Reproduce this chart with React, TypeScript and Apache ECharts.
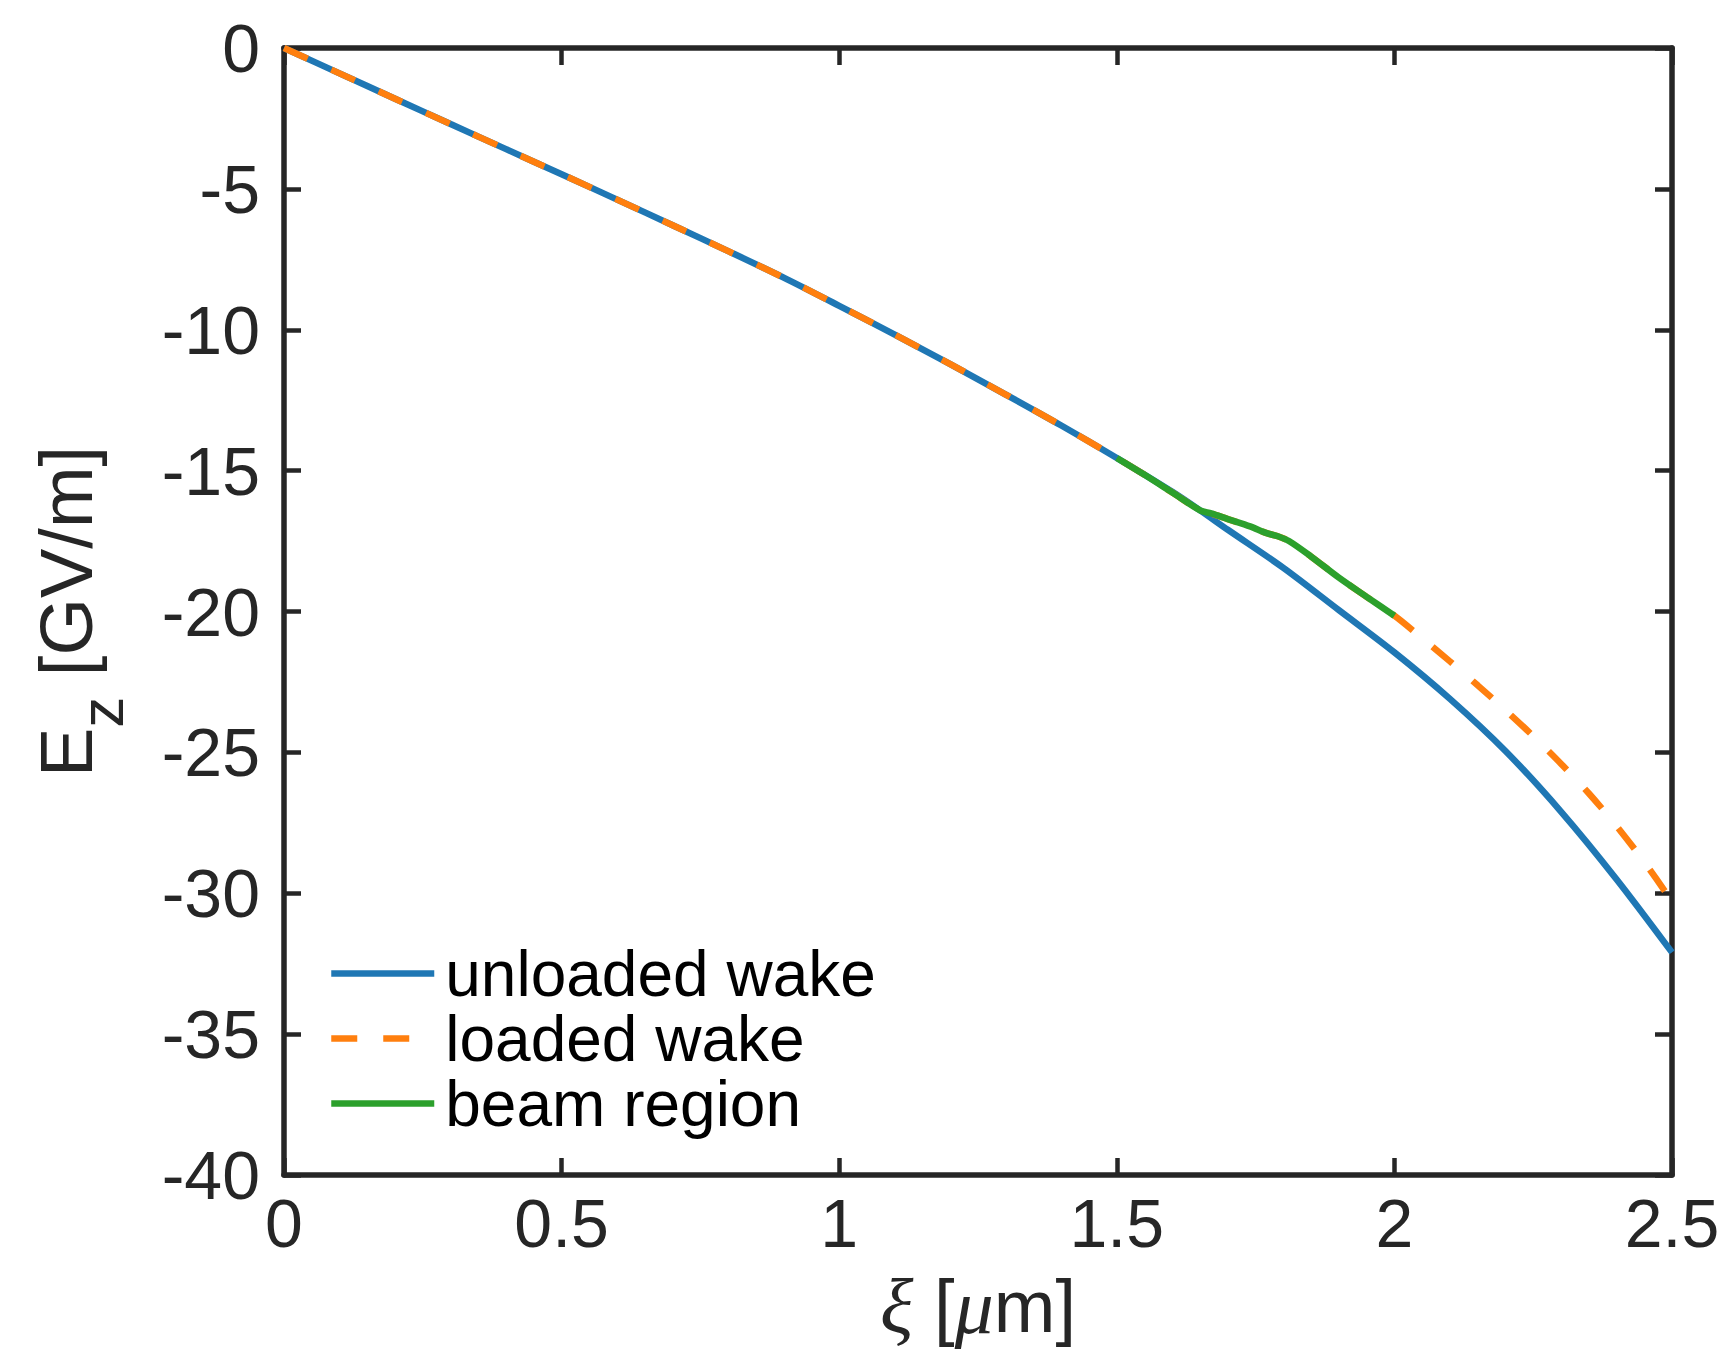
import React, { useEffect, useRef } from "react";
import * as echarts from "echarts";

// ---- data ----
const xTicks = [0, 0.5, 1, 1.5, 2, 2.5];
const yTicks = [0, -5, -10, -15, -20, -25, -30, -35, -40];

const seriesNames = ["unloaded wake", "loaded wake", "beam region"];

const xiUnloaded = [0, 0.1, 0.2, 0.3, 0.4, 0.5, 0.6, 0.7, 0.8, 0.9, 1.0, 1.1, 1.2, 1.3, 1.4, 1.5, 1.6, 1.65, 1.7, 1.8, 1.9, 2.0, 2.1, 2.2, 2.3, 2.4, 2.5];
const ezUnloaded = [0, -0.9, -1.8, -2.7, -3.59, -4.48, -5.38, -6.29, -7.21, -8.15, -9.15, -10.17, -11.22, -12.3, -13.4, -14.55, -15.75, -16.41, -17.1, -18.45, -19.95, -21.45, -23.1, -24.95, -27.1, -29.5, -32.1];

const xiBeam = [1.5, 1.55, 1.6, 1.65, 1.67, 1.7, 1.74, 1.77, 1.79, 1.81, 1.85, 1.9, 1.95, 2.0];
const ezBeam = [-14.55, -15.15, -15.78, -16.41, -16.52, -16.72, -16.98, -17.22, -17.33, -17.5, -18.05, -18.8, -19.48, -20.15];

const xiLoaded = [0, 0.1, 0.2, 0.3, 0.4, 0.5, 0.6, 0.7, 0.8, 0.9, 1.0, 1.1, 1.2, 1.3, 1.4, 1.5, 1.55, 1.6, 1.65, 1.67, 1.7, 1.74, 1.77, 1.79, 1.81, 1.85, 1.9, 1.95, 2.0, 2.05, 2.1, 2.15, 2.2, 2.25, 2.3, 2.35, 2.4, 2.45, 2.5];
const ezLoaded = [0, -0.9, -1.8, -2.7, -3.59, -4.48, -5.38, -6.29, -7.21, -8.15, -9.15, -10.17, -11.22, -12.3, -13.4, -14.55, -15.15, -15.78, -16.41, -16.52, -16.72, -16.98, -17.22, -17.33, -17.5, -18.05, -18.8, -19.48, -20.15, -20.95, -21.77, -22.62, -23.5, -24.42, -25.4, -26.45, -27.61, -28.89, -30.29];

const colors = ["#1f77b4", "#ff7f0e", "#2ca02c"];

const pairs = (xs: number[], ys: number[]) => xs.map((x, i) => [x, ys[i]]);

const AXIS_COLOR = "#262626";
const FONT = "'Liberation Sans', Arial, Helvetica, sans-serif";
const LINE_W = 6.5;

export default function App() {
  const ref = useRef<HTMLDivElement>(null);

  useEffect(() => {
    document.body.style.margin = "0";
    if (!ref.current) return;
    const chart = echarts.init(ref.current, undefined, { renderer: "svg" });

    const axisCommon = {
      axisLine: { show: true, onZero: false, lineStyle: { color: AXIS_COLOR, width: 5.5 } },
      axisTick: { show: true, inside: true, length: 17, lineStyle: { color: AXIS_COLOR, width: 4.5 } },
      splitLine: { show: false },
    };

    const option: any = {
      animation: false,
      backgroundColor: "#ffffff",
      textStyle: { fontFamily: FONT },
      grid: { left: 284, right: 61, top: 48, bottom: 174, containLabel: false, outerBoundsMode: "none" },
      legend: {
        orient: "vertical",
        left: 323,
        top: 936,
        itemWidth: 103,
        itemHeight: 6,
        itemGap: 0,
        data: seriesNames,
        itemStyle: { opacity: 0 },
        lineStyle: { width: LINE_W },
        textStyle: { fontSize: 64, color: "#000000", fontFamily: FONT, lineHeight: 65, padding: [0, 0, 0, 6] },
      },
      xAxis: [
        {
          type: "value",
          min: 0,
          max: 2.5,
          interval: 0.5,
          position: "bottom",
          ...axisCommon,
          axisLabel: { show: true, fontSize: 68, color: AXIS_COLOR, margin: 14, fontFamily: FONT, formatter: (v: number) => String(v) },
          name: "{i|ξ}{n| [}{i|μ}{n|m]}",
          nameLocation: "middle",
          nameGap: 92,
          nameTextStyle: {
            fontSize: 74,
            color: AXIS_COLOR,
            rich: {
              i: { fontSize: 78, fontStyle: "italic", fontFamily: "'Liberation Serif', 'DejaVu Serif', serif", color: AXIS_COLOR },
              n: { fontSize: 74, fontFamily: FONT, color: AXIS_COLOR },
            },
          },
        },
        {
          type: "value",
          min: 0,
          max: 2.5,
          interval: 0.5,
          position: "top",
          ...axisCommon,
          axisLabel: { show: false },
        },
      ],
      yAxis: [
        {
          type: "value",
          min: -40,
          max: 0,
          interval: 5,
          position: "left",
          ...axisCommon,
          axisLabel: { show: true, fontSize: 68, color: AXIS_COLOR, margin: 24, fontFamily: FONT },
          name: "{e|E}{s|z}{e| [GV/m]}",
          nameLocation: "middle",
          nameGap: 152,
          nameTextStyle: {
            fontSize: 74,
            color: AXIS_COLOR,
            rich: {
              e: { fontSize: 74, fontFamily: FONT, color: AXIS_COLOR },
              s: { fontSize: 62, fontFamily: FONT, color: AXIS_COLOR, padding: [70, 0, 0, 0] },
            },
          },
        },
        {
          type: "value",
          min: -40,
          max: 0,
          interval: 5,
          position: "right",
          ...axisCommon,
          axisLabel: { show: false },
        },
      ],
      series: [
        {
          name: seriesNames[0],
          type: "line",
          data: pairs(xiUnloaded, ezUnloaded),
          showSymbol: false,
          symbol: "none",
          smooth: 0.3,
          lineStyle: { color: colors[0], width: LINE_W },
          itemStyle: { color: colors[0] },
          z: 2,
        },
        {
          name: seriesNames[1],
          type: "line",
          data: pairs(xiLoaded, ezLoaded),
          showSymbol: false,
          symbol: "none",
          smooth: 0.3,
          lineStyle: { color: colors[1], width: LINE_W, type: [26, 26] },
          itemStyle: { color: colors[1] },
          z: 3,
        },
        {
          name: seriesNames[2],
          type: "line",
          data: pairs(xiBeam, ezBeam),
          showSymbol: false,
          symbol: "none",
          smooth: 0.3,
          lineStyle: { color: colors[2], width: LINE_W },
          itemStyle: { color: colors[2] },
          z: 4,
        },
      ],
    };

    chart.setOption(option);
    return () => chart.dispose();
  }, []);

  return <div ref={ref} style={{ width: 1733, height: 1349 }} />;
}
